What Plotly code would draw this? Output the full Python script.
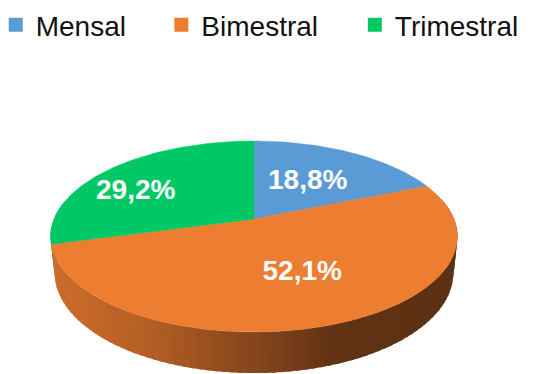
import math
import plotly.graph_objects as go

# ---- data ----
categories = ["Mensal", "Bimestral", "Trimestral"]
values = [18.8, 52.1, 29.2]
labels_text = ["18,8%", "52,1%", "29,2%"]
colors = ["#5B9BD5", "#ED7D31", "#00C864"]

# ---- styling / geometry of the 3D disc ----
W, H = 536, 374
CX, CY = 254, 219          # projected centre of the top face (px)
F = 966.9                  # focal scale
DIST = 4.835               # camera distance (disc radius = 1)
ELEV = math.radians(27.49) # camera elevation
DEPTH = 0.2057             # disc thickness
COS_E, SIN_E = math.cos(ELEV), math.sin(ELEV)

# label placement: radial fraction, angular nudge (deg) and vertical nudge (px)
LABEL_R = [0.54, 0.555, 0.71]
LABEL_DTHETA = [-1.2, -4.5, -9.6]
LABEL_DY = 2

FONT = "Liberation Sans, Arial, sans-serif"


def project(theta_deg, r=1.0, level=0.0):
    """Perspective projection of a point on the disc (theta clockwise from 12 o'clock)."""
    t = math.radians(theta_deg)
    x = r * math.sin(t)
    z = r * math.cos(t)
    yc = level * COS_E + z * SIN_E
    d = DIST + z * COS_E - level * SIN_E
    return CX + F * x / d, CY - F * yc / d, d


def shade(hex_color, px):
    """Darken a base colour for the side wall, lighter on the left, darker on the right."""
    stops = [(50, 0.87), (150, 0.76), (250, 0.57), (330, 0.41), (470, 0.39)]
    if px <= stops[0][0]:
        k = stops[0][1]
    elif px >= stops[-1][0]:
        k = stops[-1][1]
    else:
        for (x0, k0), (x1, k1) in zip(stops, stops[1:]):
            if x0 <= px <= x1:
                k = k0 + (k1 - k0) * (px - x0) / (x1 - x0)
                break
    h = hex_color.lstrip("#")
    r, g, b = (int(h[i:i + 2], 16) for i in (0, 2, 4))
    return "rgb(%d,%d,%d)" % (r * k, g * k, b * k)


total = sum(values)
bounds = []
start = 0.0
for v in values:
    end = start + 360.0 * v / total
    bounds.append((start, end))
    start = end

fig = go.Figure()

# ---- side wall: thin overlapping strips, painted far-to-near ----
strips = []
OVERLAP = 0.6
for i, (a0, a1) in enumerate(bounds):
    n = max(1, int(math.ceil((a1 - a0) / 2.0)))
    for j in range(n):
        t0 = a0 + (a1 - a0) * j / n
        t1 = a0 + (a1 - a0) * (j + 1) / n
        tm = 0.5 * (t0 + t1)
        if math.cos(math.radians(tm)) > 0.2:
            continue  # back wall, hidden by the top face
        e0, e1 = t0 - OVERLAP, t1 + OVERLAP
        pts = [project(e0, 1, 0), project(e1, 1, 0),
               project(e1, 1, -DEPTH), project(e0, 1, -DEPTH)]
        depth = project(tm, 1, -DEPTH / 2)[2]
        xm = project(tm, 1, 0)[0]
        strips.append((depth, pts, shade(colors[i], xm)))

strips.sort(key=lambda s: -s[0])
for _, pts, col in strips:
    xs = [p[0] for p in pts] + [pts[0][0]]
    ys = [p[1] for p in pts] + [pts[0][1]]
    fig.add_trace(go.Scatter(x=xs, y=ys, mode="lines", fill="toself",
                             fillcolor=col, line=dict(color=col, width=0),
                             hoverinfo="skip", showlegend=False))

# ---- top faces ----
for i, (a0, a1) in enumerate(bounds):
    n = max(2, int(math.ceil((a1 - a0) / 1.0)))
    arc = [project(a0 + (a1 - a0) * j / n) for j in range(n + 1)]
    xs = [CX] + [p[0] for p in arc] + [CX]
    ys = [CY] + [p[1] for p in arc] + [CY]
    fig.add_trace(go.Scatter(x=xs, y=ys, mode="lines", fill="toself",
                             fillcolor=colors[i], line=dict(color=colors[i], width=0.5),
                             hoverinfo="skip", showlegend=False))

# ---- percentage labels ----
for i, (a0, a1) in enumerate(bounds):
    mid = 0.5 * (a0 + a1) + LABEL_DTHETA[i]
    lx, ly, _ = project(mid, LABEL_R[i], 0)
    fig.add_trace(go.Scatter(x=[lx], y=[ly + LABEL_DY], mode="text", text=[labels_text[i]],
                             textposition="middle center",
                             textfont=dict(family=FONT, size=28, color="white",
                                           weight="bold"),
                             hoverinfo="skip", showlegend=False))

# ---- legend entries (one legend box each so spacing can be set) ----
legend_x = [-0.008, 0.301, 0.662]
legend_names = ["legend", "legend2", "legend3"]
for i, cat in enumerate(categories):
    fig.add_trace(go.Scatter(x=[None], y=[None], mode="markers", name=cat,
                             marker=dict(symbol="square", size=14, color=colors[i]),
                             legend=legend_names[i], showlegend=True))

legend_common = dict(orientation="h", yanchor="top", y=1.0, xanchor="left",
                     bgcolor="rgba(0,0,0,0)", borderwidth=0,
                     font=dict(family=FONT, size=28, color="#111111"),
                     itemsizing="trace")

fig.update_layout(
    width=W, height=H,
    margin=dict(l=0, r=0, t=0, b=0, autoexpand=False),
    paper_bgcolor="white", plot_bgcolor="white",
    xaxis=dict(range=[0, W], visible=False, fixedrange=True),
    yaxis=dict(range=[H, 0], visible=False, fixedrange=True),
    legend=dict(x=legend_x[0], **legend_common),
    legend2=dict(x=legend_x[1], **legend_common),
    legend3=dict(x=legend_x[2], **legend_common),
)

fig.write_html("out.html")
